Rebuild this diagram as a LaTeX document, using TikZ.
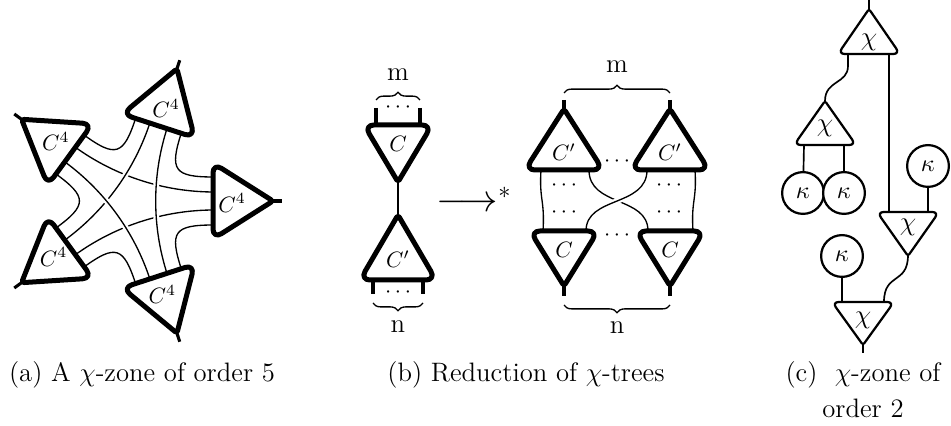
\documentclass[tikz,border=0pt]{standalone}
\usetikzlibrary{decorations.pathreplacing}
\newcommand\mytri[6]{% style, base-mid x, base y, half width, tip x, tip y
  \draw[#1] (#2,#3) [rounded corners=\cornerbig] -- ({#2-#4},#3) [rounded corners=\cornersmall] -- (#5,#6) [rounded corners=\cornerbig] -- ({#2+#4},#3) -- cycle;}
\newcommand\cornerbig{4.5pt}
\newcommand\cornersmall{1.2pt}
\begin{document}
\begin{tikzpicture}[x=0.45pt,y=-0.45pt,
  tri/.style={draw, line width=2.25pt, fill=white, line join=round},
  leg/.style={line width=1.4pt},
  strand/.style={line width=0.6pt},
  overstrand/.style={strand, preaction={draw=white, line width=2.6pt}},
  ctri/.style={draw, line width=1pt, fill=white, line join=round},
  cline/.style={line width=0.75pt},
  kap/.style={circle, draw, line width=1pt, fill=white, minimum size=18.8pt, inner sep=0pt, font=\fontsize{11}{13}\selectfont},
  lbl/.style={inner sep=0pt, font=\fontsize{10}{12}\selectfont},
  chil/.style={inner sep=0pt, font=\fontsize{12}{14}\selectfont},
  letter/.style={inner sep=0pt, font=\fontsize{12}{14}\selectfont},
  dotsnode/.style={inner sep=0pt, font=\fontsize{10}{12}\selectfont},
  captext/.style={inner sep=0pt, font=\fontsize{12}{14.5}\selectfont},
  brc/.style={decorate, decoration={brace, amplitude=3.5pt}, line width=0.6pt},
]
\path[use as bounding box] (0,0) rectangle (951,426);

% ---------------- (a) ----------------
\foreach \k in {0,...,4}{
  \begin{scope}[shift={(134,201)}, rotate=72*\k, yscale=-1]
    \coordinate (a\k L2) at (80,24);  \coordinate (a\k L2c) at (40,24);
    \coordinate (a\k L1) at (80,9);   \coordinate (a\k L1c) at (30,9);
    \coordinate (a\k R1) at (80,-9);  \coordinate (a\k R1c) at (30,-9);
    \coordinate (a\k R2) at (80,-24); \coordinate (a\k R2c) at (40,-24);
    \coordinate (a\k tip) at (137,0); \coordinate (a\k end) at (148,0);
  \end{scope}}
\foreach \k/\n in {0/1,1/2,2/3,3/4,4/0}
  \draw[strand] (a\k L2) .. controls (a\k L2c) and (a\n R2c) .. (a\n R2);
\draw[strand] (a0L1) .. controls (a0L1c) and (a2R1c) .. (a2R1);
\draw[strand] (a3L1) .. controls (a3L1c) and (a0R1c) .. (a0R1);
\foreach \k/\n in {1/3,2/4,4/1}
  \draw[overstrand] (a\k L1) .. controls (a\k L1c) and (a\n R1c) .. (a\n R1);
\foreach \k in {0,...,4}
  \draw[leg] (a\k tip) -- (a\k end);
\foreach \k in {0,...,4}{
  \begin{scope}[shift={(134,201)}, rotate=72*\k, yscale=-1]
    \draw[tri] (79,0) [rounded corners=4.5pt] -- (79,38) [rounded corners=1.2pt] -- (139,0) [rounded corners=4.5pt] -- (79,-38) -- cycle;
    \node[lbl] (a\k) at (98,-2) {$C^4$};
  \end{scope}}

% ---------------- (b) left ----------------
\coordinate (bl1t) at (376,108); \coordinate (bl1b) at (376,125);
\coordinate (bl2t) at (420,108); \coordinate (bl2b) at (420,125);
\draw[leg] (bl1t) -- (bl1b);
\draw[leg] (bl2t) -- (bl2b);
\coordinate (bltip) at (398,181); \coordinate (bltip2) at (398,217);
\draw[cline] (bltip) -- (bltip2);
\mytri{tri}{398}{125}{34}{398}{182}
\node[lbl] (bC) at (398,144) {$C$};
\node[dotsnode] (bdt) at (398,108) {$\cdots$};
\draw[brc] (376,100) -- (420,100);
\node[letter] (bm) at (398,75) {m};

\coordinate (bl3t) at (373,280); \coordinate (bl3b) at (373,294);
\coordinate (bl4t) at (423,280); \coordinate (bl4b) at (423,294);
\draw[leg] (bl3t) -- (bl3b);
\draw[leg] (bl4t) -- (bl4b);
\mytri{tri}{398}{280}{38}{398}{215}
\node[lbl] (bCp) at (398,259) {$C'$};
\node[dotsnode] (bdb) at (398,293) {$\cdots$};
\draw[brc] (423,303) -- (373,303);
\node[letter] (bn) at (398,327) {n};

\node[inner sep=0pt, anchor=base west, font=\fontsize{16}{19}\selectfont] (arr) at (436,212) {$\longrightarrow^{*}$};

% ---------------- (b) right ----------------
\coordinate (s1a) at (541,170); \coordinate (s1b) at (543,231);
\coordinate (s2a) at (695,170); \coordinate (s2b) at (693,231);
\coordinate (s3a) at (589,170); \coordinate (s3b) at (648,231);
\coordinate (s4a) at (647,170); \coordinate (s4b) at (586,231);
\draw[strand] (s1a) .. controls (539,200) and (545,200) .. (s1b);
\draw[strand] (s2a) .. controls (697,200) and (691,200) .. (s2b);
\draw[strand] (s3a) .. controls (589,207) and (648,196) .. (s3b);
\draw[overstrand] (s4a) .. controls (647,207) and (586,196) .. (s4b);
\coordinate (t1a) at (564,100); \coordinate (t1b) at (564,112);
\coordinate (t2a) at (670,100); \coordinate (t2b) at (670,112);
\coordinate (t3a) at (564,284); \coordinate (t3b) at (564,296);
\coordinate (t4a) at (670,284); \coordinate (t4b) at (670,296);
\draw[leg] (t1a) -- (t1b);
\draw[leg] (t2a) -- (t2b);
\draw[leg] (t3a) -- (t3b);
\draw[leg] (t4a) -- (t4b);
\mytri{tri}{564}{170}{39}{564}{109}
\node[lbl] (rCp1) at (564,152) {$C'$};
\mytri{tri}{670}{170}{39}{670}{109}
\node[lbl] (rCp2) at (670,152) {$C'$};
\mytri{tri}{564}{231}{34}{564}{286}
\node[lbl] (rC1) at (564,250) {$C$};
\mytri{tri}{670}{231}{34}{670}{286}
\node[lbl] (rC2) at (670,250) {$C$};
\node[dotsnode] (rd1) at (617,162) {$\cdots$};
\node[dotsnode] (rd2) at (617,236) {$\cdots$};
\node[dotsnode] (rd3) at (564,186) {$\cdots$};
\node[dotsnode] (rd4) at (564,213) {$\cdots$};
\node[dotsnode] (rd5) at (669,186) {$\cdots$};
\node[dotsnode] (rd6) at (669,213) {$\cdots$};
\draw[brc] (564,93) -- (670,93);
\node[letter] (rm) at (617,67) {m};
\draw[brc] (670,305) -- (564,305);
\node[letter] (rn) at (617,328) {n};

% ---------------- (c) ----------------
\renewcommand\cornerbig{3pt}
\renewcommand\cornersmall{1pt}
\coordinate (c0) at (869,0); \coordinate (c1tip) at (869,10);
\draw[cline] (c0) -- (c1tip);
\coordinate (c1l) at (848,54); \coordinate (c1r) at (889,54);
\coordinate (c2tip) at (825,101);
\draw[cline] (c1l) -- (848,66) .. controls (848,84) and (825,80) .. (c2tip);
\coordinate (c3l) at (889,212);
\draw[cline] (c1r) -- (c3l);
\node[kap] (k1) at (803,193) {$\kappa$};
\node[kap] (k2) at (844,193) {$\kappa$};
\node[kap] (k3) at (928,166) {$\kappa$};
\node[kap] (k4) at (842,256) {$\kappa$};
\coordinate (c2l) at (804,145); \coordinate (c2r) at (844,145);
\draw[cline] (c2l) -- (k1);
\draw[cline] (c2r) -- (k2);
\coordinate (c3r) at (928,212);
\draw[cline] (k3) -- (c3r);
\coordinate (c3tip) at (908,255); \coordinate (c4r) at (884,302);
\draw[cline] (c3tip) .. controls (908,285) and (884,272) .. (c4r);
\coordinate (c4l) at (842,302);
\draw[cline] (k4) -- (c4l);
\coordinate (c4tip) at (863,344); \coordinate (c4end) at (863,353);
\draw[cline] (c4tip) -- (c4end);
\mytri{ctri}{869}{54}{31}{869}{9}
\node[chil] (x1) at (869,42) {$\chi$};
\mytri{ctri}{825}{145}{31}{825}{101}
\node[chil] (x2) at (825,128) {$\chi$};
\mytri{ctri}{908}{212}{31}{908}{256}
\node[chil] (x3) at (908,227) {$\chi$};
\mytri{ctri}{863}{302}{31}{863}{345}
\node[chil] (x4) at (863,320) {$\chi$};

% ---------------- captions ----------------
\node[captext, anchor=base] (capa) at (142,381.5) {(a) A $\chi$-zone of order 5};
\node[captext, anchor=base] (capb) at (526,381.5) {(b) Reduction of $\chi$-trees};
\node[captext, anchor=base] (capc) at (863,381.5) {(c)\ \ $\chi$-zone of};
\node[captext, anchor=base] (capc2) at (863,418) {order 2};
\end{tikzpicture}
\end{document}
